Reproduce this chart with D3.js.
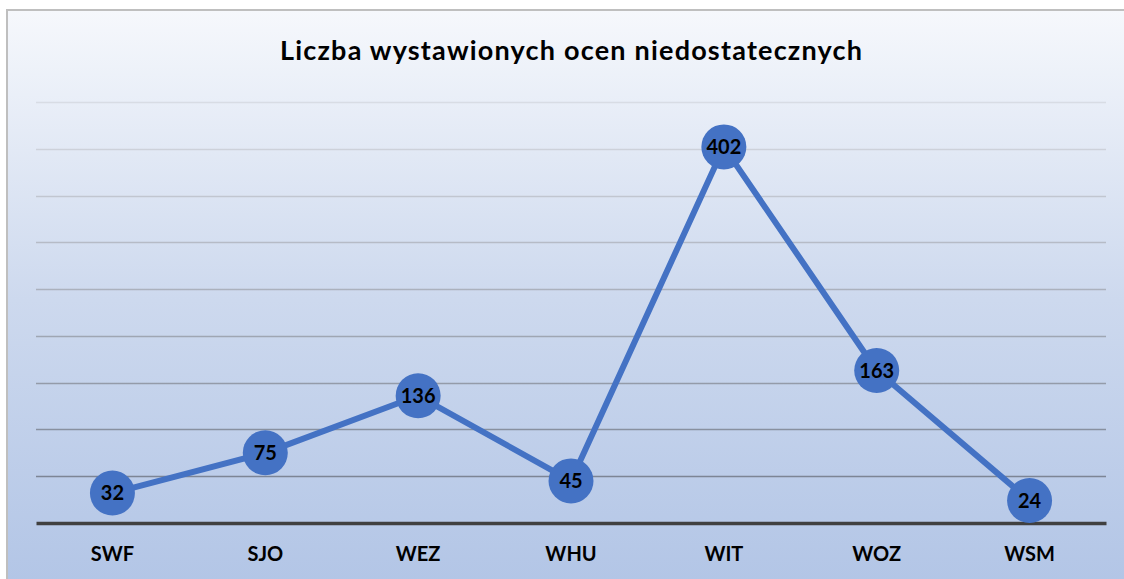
<!DOCTYPE html>
<html>
<head>
<meta charset="utf-8">
<script src="https://cdn.jsdelivr.net/npm/d3@7"></script>
<style>
  html, body { margin: 0; padding: 0; background: #fff; overflow: hidden; }
  svg { display: block; }
  text { font-family: Lato, "Open Sans", sans-serif; font-weight: bold; fill: #000; }
</style>
</head>
<body>
<div id="chart"></div>
<script>
// data
const categories = ['SWF', 'SJO', 'WEZ', 'WHU', 'WIT', 'WOZ', 'WSM'];
const values = [32, 75, 136, 45, 402, 163, 24];
const yTicks = [50, 100, 150, 200, 250, 300, 350, 400, 450];
const title = 'Liczba wystawionych ocen niedostatecznych';

const width = 1124, height = 579;
const margin = { left: 36, right: 18, top: 102, bottom: 56 };

const svg = d3.select('#chart').append('svg')
  .attr('width', width)
  .attr('height', height);

// background gradient of the chart area
const defs = svg.append('defs');
const grad = defs.append('linearGradient')
  .attr('id', 'bg')
  .attr('x1', 0).attr('y1', 0).attr('x2', 0).attr('y2', 1);
grad.append('stop').attr('offset', '0%').attr('stop-color', '#f6f8fc');
grad.append('stop').attr('offset', '50%').attr('stop-color', '#cdd9ee');
grad.append('stop').attr('offset', '100%').attr('stop-color', '#b2c5e6');

svg.append('rect')
  .attr('x', 7).attr('y', 10)
  .attr('width', width).attr('height', height)
  .attr('fill', 'url(#bg)')
  .attr('stroke', '#bfbfbf')
  .attr('stroke-width', 2);

const x = d3.scaleBand()
  .domain(categories)
  .range([margin.left, width - margin.right]);

const y = d3.scaleLinear()
  .domain([0, 450])
  .range([height - margin.bottom, margin.top]);

// gridlines, lighter near the top
const gridColor = d3.scaleLinear()
  .domain([450, 50])
  .range(['#d8dce4', '#7d8595']);

svg.append('g')
  .selectAll('line')
  .data(yTicks)
  .join('line')
  .attr('x1', margin.left)
  .attr('x2', width - margin.right)
  .attr('y1', d => Math.round(y(d)) + 0.5)
  .attr('y2', d => Math.round(y(d)) + 0.5)
  .attr('stroke', d => gridColor(d))
  .attr('stroke-width', 1.5);

// x axis baseline + labels
const xAxis = svg.append('g')
  .attr('transform', `translate(0,${y(0)})`)
  .call(d3.axisBottom(x).tickSize(0).tickPadding(24));
xAxis.select('.domain')
  .attr('stroke', '#404040')
  .attr('stroke-width', 3.5);
xAxis.selectAll('text')
  .attr('font-size', 20)
  .attr('font-family', 'Lato, "Open Sans", sans-serif')
  .attr('font-weight', 'bold')
  .attr('fill', '#000');

// title
svg.append('text')
  .attr('x', 571)
  .attr('y', 60)
  .attr('text-anchor', 'middle')
  .attr('font-size', 27)
  .attr('textLength', 582)
  .attr('lengthAdjust', 'spacing')
  .text(title);

// line
const line = d3.line()
  .x((d, i) => x(categories[i]) + x.bandwidth() / 2)
  .y(d => y(d));

svg.append('path')
  .datum(values)
  .attr('d', line)
  .attr('fill', 'none')
  .attr('stroke', '#4472c4')
  .attr('stroke-width', 6)
  .attr('stroke-linejoin', 'round');

// markers with labels
const pts = svg.append('g')
  .selectAll('g')
  .data(values)
  .join('g')
  .attr('transform', (d, i) => `translate(${x(categories[i]) + x.bandwidth() / 2},${y(d)})`);

pts.append('circle')
  .attr('r', 22.5)
  .attr('fill', '#4472c4');

pts.append('text')
  .attr('text-anchor', 'middle')
  .attr('dy', '0.36em')
  .attr('font-size', 20)
  .text(d => d);
</script>
</body>
</html>
